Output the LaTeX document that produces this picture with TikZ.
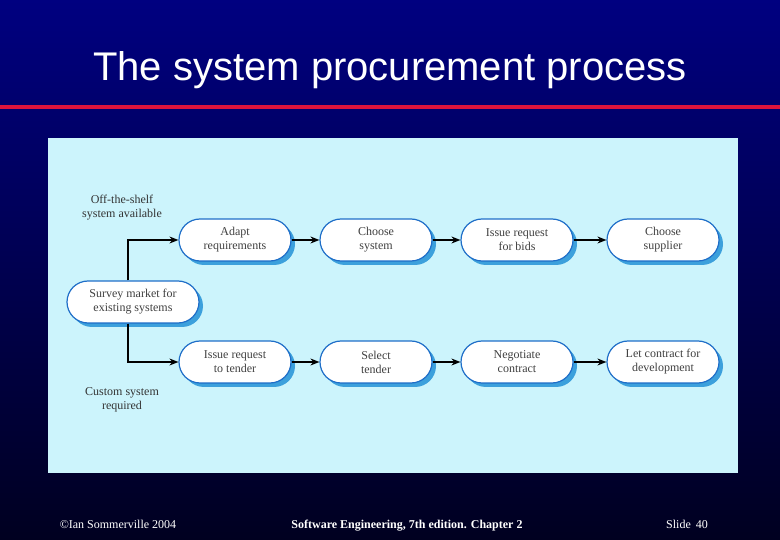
\documentclass[tikz,border=0pt]{standalone}
\usepackage{fontspec}
\setmainfont{Liberation Serif}
\newfontfamily\sans{Liberation Sans}
\usetikzlibrary{arrows.meta,shadows}
\definecolor{navy}{RGB}{0,0,128}
\definecolor{panel}{RGB}{204,244,252}
\definecolor{bord}{RGB}{30,110,200}
\definecolor{shad}{RGB}{60,160,220}
\definecolor{redl}{RGB}{220,20,60}
\tikzset{
 proc/.style={draw=bord,line width=1.2pt,fill=white,rounded corners=21pt,minimum width=112pt,minimum height=42pt,align=center,font=\fontsize{12}{14}\selectfont,text=black!75,
   drop shadow={shadow xshift=4pt,shadow yshift=-4pt,fill=shad,opacity=1}},
 arr/.style={-{Stealth[length=9pt,width=7pt]},line width=1.2pt},
 lab/.style={align=center,font=\fontsize{12}{14}\selectfont,text=black!80},
 foot/.style={text=white,font=\fontsize{12}{14}\selectfont,anchor=base}
}
\begin{document}
\begin{tikzpicture}[x=1pt,y=-1pt]
\shade[top color=navy,bottom color=navy!25!black] (0,0) rectangle (780,540);
\useasboundingbox (0,0) rectangle (780,540);
\node[text=white,font=\sans\fontsize{40}{44}\selectfont] (title) at (390,70) {The system procurement process};
\fill[redl] (0,105) rectangle (780,109);
\fill[panel] (48,138) rectangle (738,473);
\node[proc,minimum width=132pt] (s) at (133,302) {Survey market for\\existing systems};
\node[proc] (a1) at (235,240) {Adapt\\requirements};
\node[proc] (a2) at (376,240) {Choose\\system};
\node[proc] (a3) at (517,240) {Issue request\\for bids};
\node[proc] (a4) at (663,240) {Choose\\supplier};
\node[proc] (b1) at (235,362) {Issue request\\to tender};
\node[proc] (b2) at (376,362) {Select\\tender};
\node[proc] (b3) at (517,362) {Negotiate\\contract};
\node[proc] (b4) at (663,362) {Let contract for\\development};
\coordinate (t) at (128,240);
\coordinate (u) at (128,362);
\draw[arr] (s.north -| t) -- (t) -- (a1);
\draw[arr] (s.south -| u) -- (u) -- (b1);
\draw[arr] (a1) -- (a2); \draw[arr] (a2) -- (a3); \draw[arr] (a3) -- (a4);
\draw[arr] (b1) -- (b2); \draw[arr] (b2) -- (b3); \draw[arr] (b3) -- (b4);
\node[lab] (l1) at (122,208) {Off-the-shelf\\system available};
\node[lab] (l2) at (122,400) {Custom system\\required};
\node[foot] (f1) at (118,528) {©Ian Sommerville 2004};
\node[foot,font=\bfseries\fontsize{12}{14}\selectfont] (f2) at (407,528) {Software Engineering, 7th edition. Chapter 2};
\node[foot] (f3) at (687,528) {Slide\, 40};
\end{tikzpicture}
\end{document}
